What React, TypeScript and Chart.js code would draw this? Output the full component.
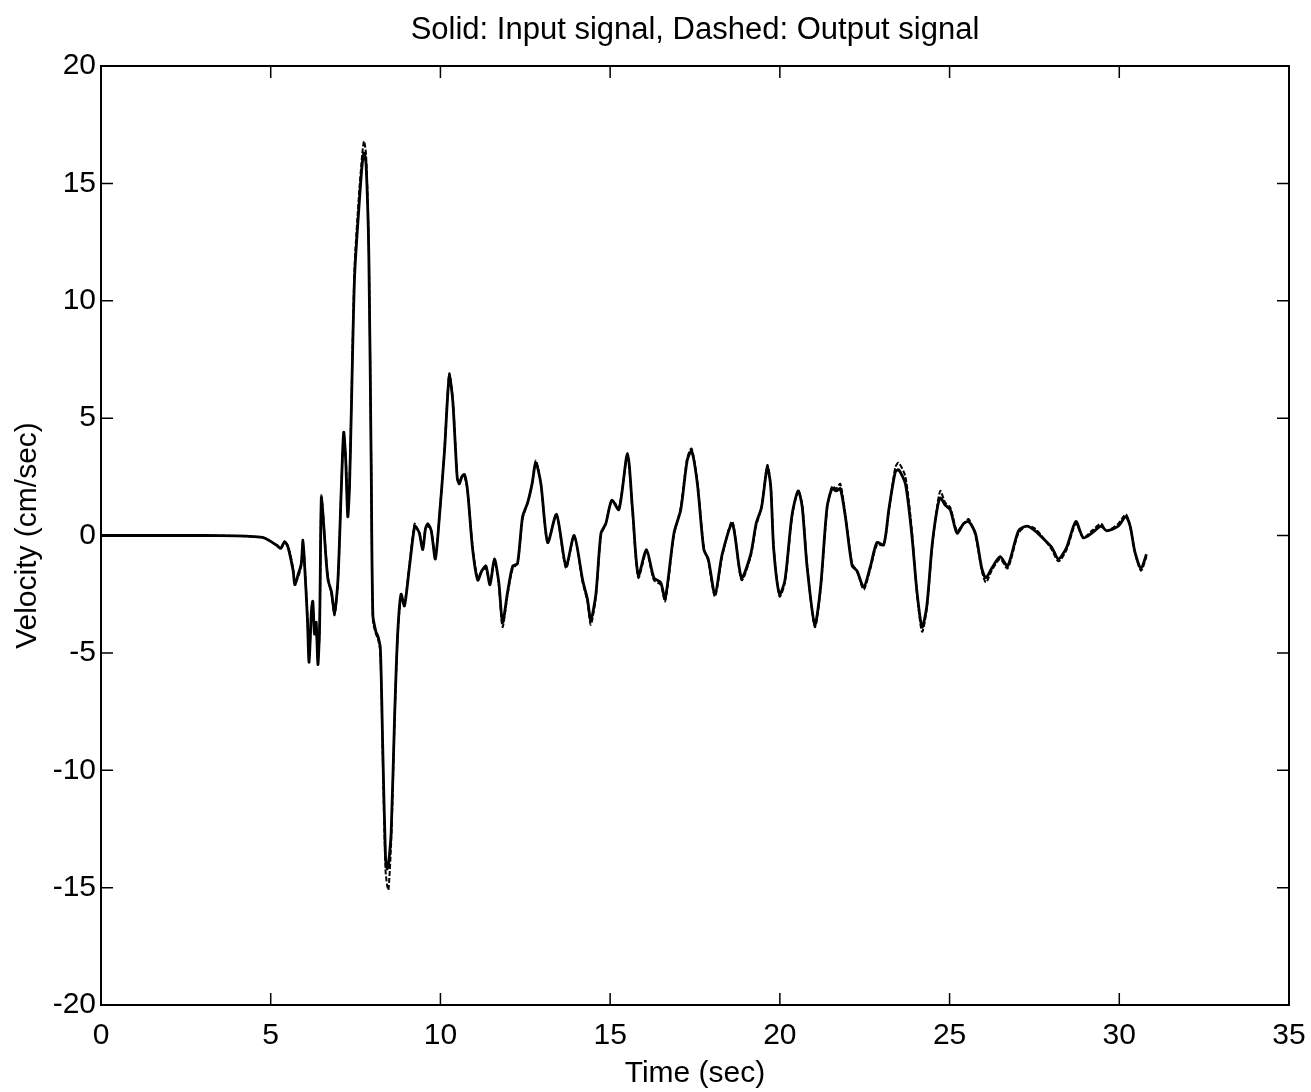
import React, { useEffect, useRef } from "react";
import { Chart, registerables } from "chart.js";

Chart.register(...registerables);

// Time axis (seconds), shared by both signals
const timeSec = [
  0, 1, 2, 3, 4, 4.5, 4.8, 5.0, 5.2, 5.3, 5.41, 5.51, 5.66, 5.71, 5.8, 5.9, 5.95, 6.0, 6.08, 6.13,
  6.2, 6.24, 6.29, 6.34, 6.39, 6.44, 6.49, 6.54, 6.62, 6.69, 6.79, 6.88, 6.98, 7.08, 7.15, 7.21,
  7.27, 7.32, 7.37, 7.47, 7.6, 7.7, 7.75, 7.81, 7.89, 7.96, 8.01, 8.1, 8.16, 8.23, 8.3, 8.38, 8.43,
  8.47, 8.55, 8.65, 8.74, 8.84, 8.94, 9.09, 9.24, 9.31, 9.38, 9.48, 9.56, 9.63, 9.73, 9.85, 9.97,
  10.12, 10.26, 10.36, 10.44, 10.5, 10.56, 10.63, 10.71, 10.8, 10.95, 11.1, 11.22, 11.34, 11.46,
  11.59, 11.72, 11.83, 11.98, 12.13, 12.27, 12.42, 12.57, 12.7, 12.81, 12.96, 13.16, 13.42, 13.7,
  13.94, 14.19, 14.33, 14.43, 14.58, 14.73, 14.87, 15.05, 15.26, 15.51, 15.66, 15.83, 16.07, 16.29,
  16.49, 16.62, 16.88, 17.08, 17.27, 17.4, 17.57, 17.76, 17.89, 18.09, 18.3, 18.6, 18.87, 19.14,
  19.3, 19.46, 19.63, 19.73, 19.82, 19.99, 20.15, 20.36, 20.54, 20.66, 20.8, 21.03, 21.2, 21.39,
  21.54, 21.66, 21.78, 21.93, 22.13, 22.27, 22.47, 22.67, 22.86, 23.06, 23.21, 23.4, 23.5, 23.7,
  23.89, 24.04, 24.19, 24.33, 24.48, 24.63, 24.73, 24.87, 25.02, 25.22, 25.41, 25.56, 25.76, 25.95,
  26.07, 26.24, 26.49, 26.71, 27.03, 27.27, 27.52, 27.81, 28.01, 28.21, 28.45, 28.72, 28.94, 29.19,
  29.46, 29.63, 29.97, 30.19, 30.32, 30.46, 30.64, 30.8,
];

// Solid line: input velocity (cm/sec)
const inputVelocity = [
  0, 0, 0, 0, -0.02, -0.05, -0.1, -0.25, -0.45, -0.55, -0.26, -0.5, -1.5, -2.1, -1.7, -1.2, -0.2, -1.3, -3.5, -5.4,
  -3.2, -2.8, -4.2, -3.7, -5.5, -3.9, 1.6, 0.9, -0.8, -1.9, -2.4, -3.3, -1.9, 2.0, 4.4, 3.2,
  0.8, 2.0, 5.0, 11.0, 14.0, 15.9, 16.3, 15.8, 12.0, 3.0, -3.4, -4.1, -4.3, -4.8, -9.0, -13.6, -14.2,
  -14.0, -12.6, -7.7, -4.2, -2.5, -3.0, -1.3, 0.4, 0.3, 0.1, -0.6, 0.3, 0.5, 0.2, -1.0, 0.8,
  3.6, 6.8, 5.8, 3.8, 2.4, 2.2, 2.5, 2.6, 1.9, -0.6, -1.9, -1.5, -1.3, -2.1,
  -1.0, -2.0, -3.7, -2.4, -1.3, -1.2, 0.8, 1.4, 2.2, 3.1, 2.2, -0.3, 0.9, -1.3,
  0.0, -1.9, -2.7, -3.6, -2.5, 0.1, 0.5, 1.5, 1.1, 3.5, 1.1, -1.7, -0.6, -1.8,
  -2.0, -2.7, 0.1, 1.1, 3.2, 3.6, 2.2, -0.6, -1.0, -2.5, -0.8, 0.5, -1.8, -0.8,
  0.5, 1.2, 2.9, 2.1, -0.6, -2.5, -1.9, 0.9, 1.9, 1.2, -1.3, -3.8, -2.2, 1.2,
  2.0, 1.9, 2.0, 0.8, -1.3, -1.5, -2.2, -1.3, -0.3, -0.4, 1.1, 2.7, 2.8, 2.2,
  0.0, -2.4, -3.9, -3.0, -0.5, 1.1, 1.6, 1.3, 1.1, 0.1, 0.5, 0.6, 0.1, -1.4,
  -1.8, -1.4, -0.9, -1.3, 0.2, 0.4, 0.2, -0.2, -0.5, -1.0, -0.5, 0.6, -0.1, 0.1,
  0.4, 0.2, 0.4, 0.8, 0.4, -0.7, -1.4, -0.8,
];

// Dashed line: output velocity (cm/sec)
const outputVelocity = [
  0, 0, 0, 0, -0.02, -0.05, -0.1, -0.25, -0.42, -0.5, -0.3, -0.45, -1.4, -2.0, -1.8, -1.3, -0.4, -1.2, -3.4, -5.2,
  -3.4, -3.0, -4.0, -3.9, -5.3, -4.1, 1.7, 1.0, -0.7, -1.8, -2.5, -3.4, -2.0, 2.1, 4.2, 3.4,
  1.0, 2.2, 5.2, 11.4, 14.5, 16.3, 16.8, 16.2, 12.3, 3.2, -3.6, -4.2, -4.4, -5.0, -9.4, -14.2, -14.9,
  -15.1, -13.0, -7.9, -4.3, -2.6, -2.9, -1.2, 0.5, 0.3, 0.1, -0.5, 0.3, 0.4, 0.2, -0.9, 0.8,
  3.7, 6.9, 5.9, 3.9, 2.4, 2.3, 2.5, 2.5, 1.9, -0.5, -1.8, -1.5, -1.4, -2.0,
  -1.1, -2.1, -3.9, -2.5, -1.4, -1.2, 0.7, 1.4, 2.2, 3.2, 2.2, -0.3, 0.9, -1.4,
  0.0, -2.0, -2.8, -3.8, -2.6, 0.0, 0.5, 1.5, 1.2, 3.4, 1.0, -1.8, -0.7, -1.9,
  -2.1, -2.8, 0.0, 1.2, 3.3, 3.7, 2.3, -0.5, -1.1, -2.6, -0.9, 0.6, -1.9, -0.9,
  0.4, 1.2, 3.0, 2.2, -0.5, -2.6, -2.0, 0.8, 1.9, 1.3, -1.2, -3.9, -2.3, 1.1,
  2.1, 2.0, 2.2, 0.9, -1.2, -1.5, -2.3, -1.4, -0.4, -0.4, 1.0, 2.9, 3.1, 2.5,
  0.2, -2.5, -4.1, -3.1, -0.6, 1.2, 1.9, 1.4, 1.2, 0.2, 0.5, 0.7, 0.0, -1.5,
  -2.0, -1.5, -1.0, -1.4, 0.1, 0.4, 0.3, -0.2, -0.6, -1.1, -0.6, 0.5, -0.1, 0.2,
  0.5, 0.2, 0.5, 0.9, 0.4, -0.7, -1.5, -0.9,
];

const xTicks = [0, 5, 10, 15, 20, 25, 30, 35];
const yTicks = [-20, -15, -10, -5, 0, 5, 10, 15, 20];
const chartTitle = "Solid: Input signal, Dashed: Output signal";

const FONT = "'Liberation Sans', Arial, Helvetica, sans-serif";

// Draws the title over the plot area, the box round the plot and the
// inward tick marks on all four sides
const framePlugin = {
  id: "frameAndTicks",
  afterDraw(chart: any) {
    const { ctx, chartArea: a, scales } = chart;
    const len = 12;
    ctx.save();
    ctx.fillStyle = "#000";
    ctx.font = `31px ${FONT}`;
    ctx.textAlign = "center";
    ctx.textBaseline = "middle";
    ctx.fillText(chartTitle, (a.left + a.right) / 2, 30);

    ctx.strokeStyle = "#000";
    ctx.lineWidth = 2;
    ctx.strokeRect(a.left, a.top, a.right - a.left, a.bottom - a.top);
    ctx.lineWidth = 1.5;
    ctx.beginPath();
    for (const v of xTicks) {
      const px = scales.x.getPixelForValue(v);
      ctx.moveTo(px, a.bottom);
      ctx.lineTo(px, a.bottom - len);
      ctx.moveTo(px, a.top);
      ctx.lineTo(px, a.top + len);
    }
    for (const v of yTicks) {
      const py = scales.y.getPixelForValue(v);
      ctx.moveTo(a.left, py);
      ctx.lineTo(a.left + len, py);
      ctx.moveTo(a.right, py);
      ctx.lineTo(a.right - len, py);
    }
    ctx.stroke();
    ctx.restore();
  },
};

export default function App() {
  const canvasRef = useRef<HTMLCanvasElement | null>(null);

  useEffect(() => {
    const canvas = canvasRef.current;
    if (!canvas) return;
    const toPoints = (vals: number[]) => timeSec.map((t, i) => ({ x: t, y: vals[i] }));

    const chart = new Chart(canvas, {
      type: "line",
      data: {
        datasets: [
          {
            label: "Input signal",
            data: toPoints(inputVelocity),
            borderColor: "#000",
            borderWidth: 2.8,
            pointRadius: 0,
            tension: 0.25,
            fill: false,
          },
          {
            label: "Output signal",
            data: toPoints(outputVelocity),
            borderColor: "#000",
            borderWidth: 2,
            borderDash: [5, 2],
            pointRadius: 0,
            tension: 0.25,
            fill: false,
          },
        ],
      },
      options: {
        animation: false,
        responsive: false,
        devicePixelRatio: 1,
        layout: { padding: { left: 0, right: 22, top: 66, bottom: 0 } },
        plugins: {
          legend: { display: false },
          tooltip: { enabled: false },
          title: { display: false },
        },
        scales: {
          x: {
            type: "linear",
            min: 0,
            max: 35,
            afterFit: (s: any) => {
              s.height = 87;
              s.paddingLeft = 0;
              s.paddingRight = 0;
            },
            afterBuildTicks: (s: any) => {
              s.ticks = xTicks.map((v) => ({ value: v }));
            },
            grid: { display: false, drawTicks: false },
            border: { display: false },
            ticks: {
              color: "#000",
              padding: 13,
              maxRotation: 0,
              font: { family: FONT, size: 30 },
            },
            title: {
              display: true,
              text: "Time (sec)",
              color: "#000",
              font: { family: FONT, size: 30 },
              padding: { top: 0, bottom: 0 },
            },
          },
          y: {
            type: "linear",
            min: -20,
            max: 20,
            afterFit: (s: any) => {
              s.width = 101;
              s.paddingTop = 0;
              s.paddingBottom = 0;
            },
            afterBuildTicks: (s: any) => {
              s.ticks = yTicks.map((v) => ({ value: v }));
            },
            grid: { display: false, drawTicks: false },
            border: { display: false },
            ticks: {
              color: "#000",
              padding: 5,
              font: { family: FONT, size: 30 },
            },
            title: {
              display: true,
              text: "Velocity (cm/sec)",
              color: "#000",
              font: { family: FONT, size: 30 },
              padding: { top: 10, bottom: 0 },
            },
          },
        },
      },
      plugins: [framePlugin],
    });

    return () => chart.destroy();
  }, []);

  return (
    <div style={{ position: "fixed", left: 0, top: 0, width: 1311, height: 1092, background: "#fff" }}>
      <canvas ref={canvasRef} width={1311} height={1092} />
    </div>
  );
}
